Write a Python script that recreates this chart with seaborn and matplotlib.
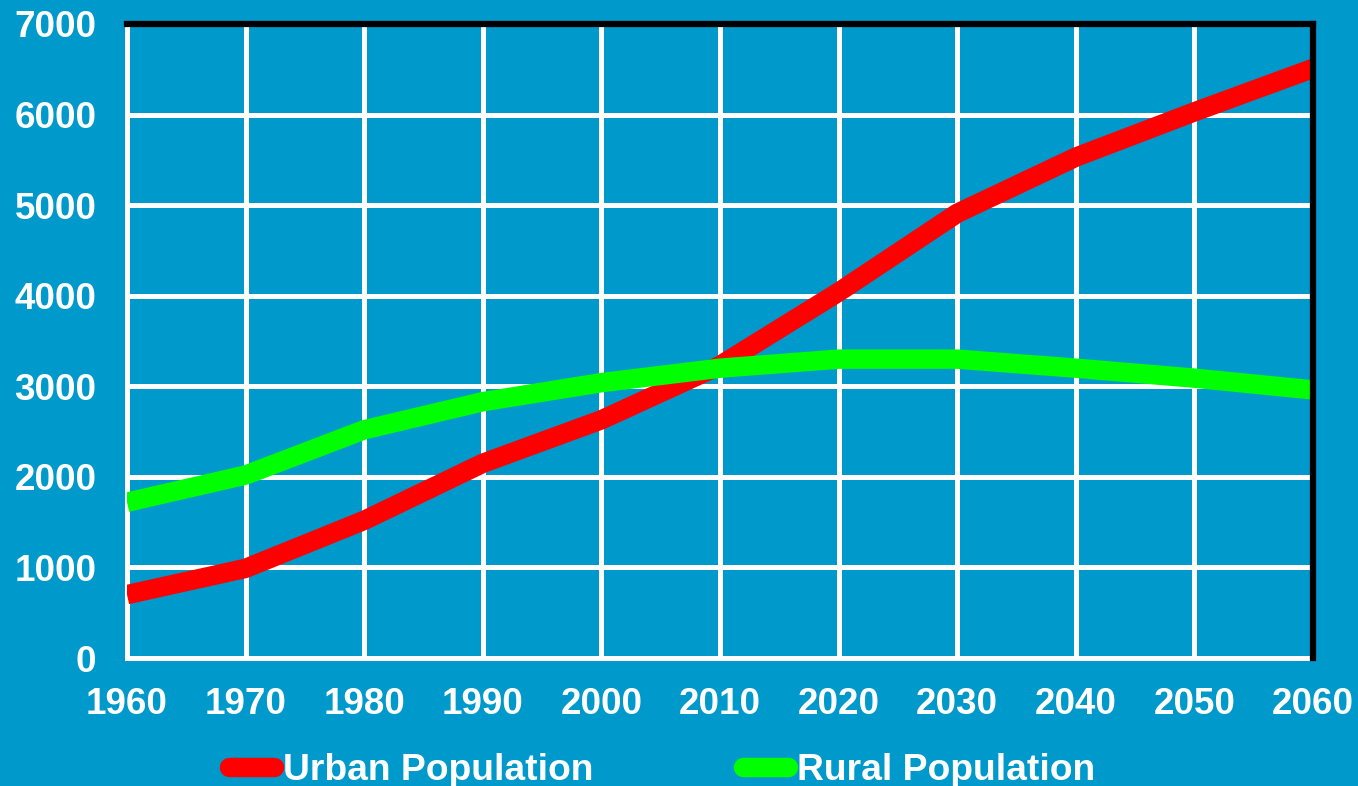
import matplotlib
matplotlib.use("Agg")
import matplotlib.pyplot as plt
import pandas as pd
import seaborn as sns

years = [1960, 1970, 1980, 1990, 2000, 2010, 2020, 2030, 2040, 2050, 2060]
urban = [700, 990, 1520, 2150, 2630, 3230, 4040, 4910, 5530, 6030, 6510]
rural = [1720, 2020, 2520, 2830, 3040, 3200, 3300, 3300, 3200, 3090, 2960]
series_names = ["Urban Population", "Rural Population"]
colors = ["#FF0000", "#00FF00"]

bg = "#0099CC"

df = pd.DataFrame({
    "year": years * 2,
    "value": urban + rural,
    "series": [series_names[0]] * len(years) + [series_names[1]] * len(years),
})

sns.set_style("white")
plt.rcParams["font.family"] = ["Liberation Sans", "DejaVu Sans"]

fig = plt.figure(figsize=(13.58, 7.86), dpi=100, facecolor=bg)
ax = fig.add_axes([0.0935, 0.1628, 0.8734, 0.8067])
ax.set_facecolor(bg)

sns.lineplot(data=df, x="year", y="value", hue="series", hue_order=series_names,
             palette=colors, linewidth=14, ax=ax, legend=True)
for ln in ax.get_lines():
    ln.set_solid_capstyle("butt")
    ln.set_solid_joinstyle("round")
    ln.set_zorder(3)

ax.set_xlim(1960, 2060)
ax.set_ylim(0, 7000)
ax.set_xticks(years)
ax.set_yticks(range(0, 7001, 1000))
ax.grid(True, color="white", linewidth=3.6)
ax.set_axisbelow(True)
ax.set_xlabel("")
ax.set_ylabel("")

for side in ["left", "bottom"]:
    ax.spines[side].set_color("white")
    ax.spines[side].set_linewidth(3.6)
for side in ["top", "right"]:
    ax.spines[side].set_color("black")
    ax.spines[side].set_linewidth(4.5)
    ax.spines[side].set_zorder(4)

ax.tick_params(axis="both", colors="white", length=8, width=3.6, direction="out")
ax.tick_params(axis="y", pad=14)
ax.tick_params(axis="x", pad=13)
for lab in ax.get_xticklabels() + ax.get_yticklabels():
    lab.set_fontsize(26.5)
    lab.set_fontweight("bold")
    lab.set_color("white")

handles, labels = ax.get_legend_handles_labels()
ax.get_legend().remove()
leg = fig.legend(handles, labels, loc="center", bbox_to_anchor=(0.4875, 0.02),
                 ncol=2, frameon=False, handlelength=1.22, handletextpad=0.25,
                 columnspacing=4.0, prop={"size": 26.8, "weight": "bold"})
for h in leg.get_lines():
    h.set_solid_capstyle("round")
    h.set_linewidth(14)
for t in leg.get_texts():
    t.set_color("white")

fig.savefig("out.png", dpi=100, facecolor=bg)
